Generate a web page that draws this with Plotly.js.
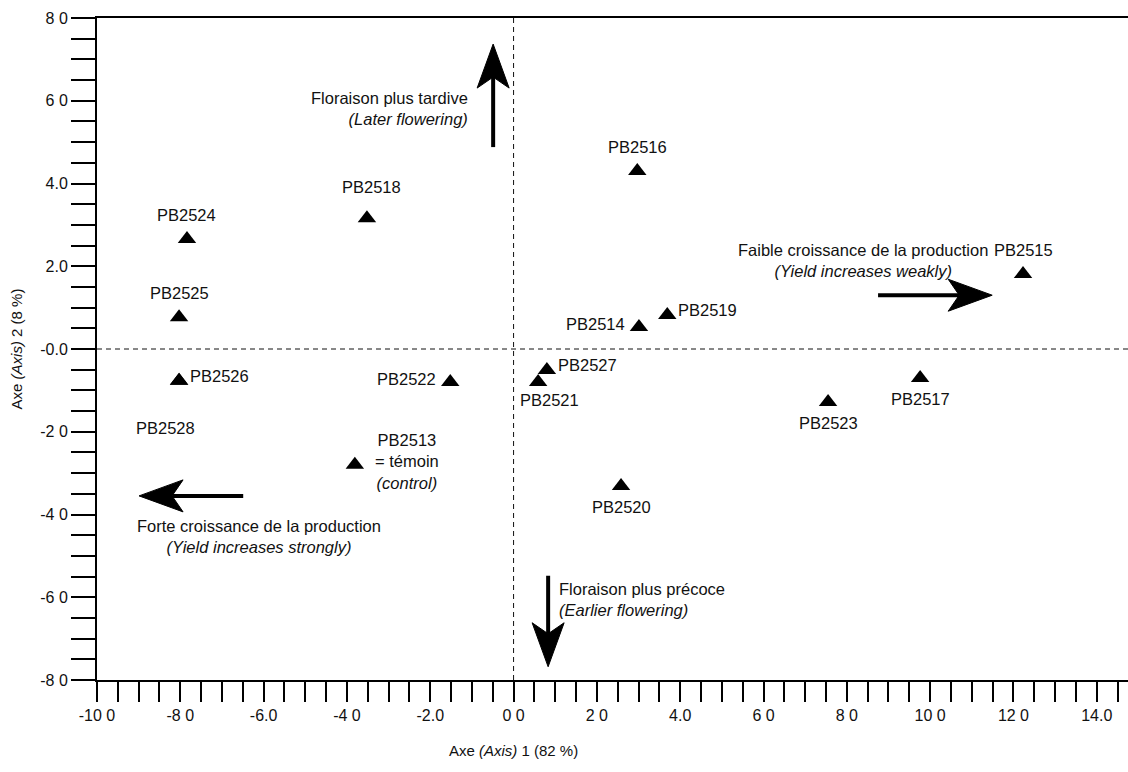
<!DOCTYPE html>
<html>
<head>
<meta charset="utf-8">
<script src="https://cdn.plot.ly/plotly-3.0.1.min.js"></script>
<style>html,body{margin:0;padding:0;background:#fff;}#chart{width:1128px;height:772px;}</style>
</head>
<body>
<div id="chart"></div>
<script>
// ---- data ----
const genotypes = ["PB2516","PB2518","PB2524","PB2525","PB2526","PB2528","PB2522","PB2513","PB2527","PB2521","PB2520","PB2514","PB2519","PB2523","PB2517","PB2515"];
const axis1 = [2.97,-3.52,-7.84,-8.03,-8.03,-8.03,-1.52,-3.81,0.80,0.59,2.58,3.01,3.69,7.55,9.76,12.23];
const axis2 = [4.30,3.16,2.66,0.77,-0.77,-0.77,-0.80,-2.80,-0.51,-0.80,-3.31,0.53,0.82,-1.28,-0.70,1.81];
const labelSide = ["above","high","above","above","right","farbelow","left","control","right","belowright","below","left","right","below","below","above"];

const xTickVals = [-10,-8,-6,-4,-2,0,2,4,6,8,10,12,14];
const xTickText = ["-10 0","-8 0","-6.0","-4 0","-2.0","0 0","2 0","4.0","6 0","8 0","10 0","12 0","14.0"];
const yTickVals = [8,6,4,2,0,-2,-4,-6,-8];
const yTickText = ["8 0","6 0","4.0","2.0","-0.0","-2 0","-4 0","-6 0","-8 0"];

const notes = [
  {text:"Floraison plus tardive<br><i>(Later flowering)</i>", x:-1.04, y:5.82, xanchor:"right", align:"right"},
  {text:"Floraison plus précoce<br><i>(Earlier flowering)</i>", x:1.04, y:-6.06, xanchor:"left", align:"left"},
  {text:"Faible croissance de la production<br><i>(Yield increases weakly)</i>", x:8.40, y:2.13, xanchor:"center", align:"center"},
  {text:"Forte croissance de la production<br><i>(Yield increases strongly)</i>", x:-6.11, y:-4.54, xanchor:"center", align:"center"}
];
// arrows: from (tail) -> to (tip), data coordinates
const arrows = [
  {x0:-0.49, y0:4.88, x1:-0.49, y1:7.37},
  {x0:0.83, y0:-5.48, x1:0.83, y1:-7.68},
  {x0:8.75, y0:1.30, x1:11.49, y1:1.30},
  {x0:-6.49, y0:-3.55, x1:-8.99, y1:-3.55}
];

// ---- styling ----
const FONT = '"Liberation Sans Narrow","Arial Narrow","Liberation Sans",Arial,sans-serif';
const txt = {family: FONT, size: 16.5, color: "#111"};

const offsets = {
  above:      {xanchor:"center", yanchor:"middle", xshift:0,  yshift:24},
  high:       {xanchor:"center", yanchor:"middle", xshift:5,  yshift:31},
  below:      {xanchor:"center", yanchor:"middle", xshift:0,  yshift:-21},
  belowright: {xanchor:"center", yanchor:"middle", xshift:11, yshift:-18},
  farbelow:   {xanchor:"center", yanchor:"middle", xshift:-14,yshift:-47},
  right:      {xanchor:"left",   yanchor:"middle", xshift:9,  yshift:5},
  left:       {xanchor:"right",  yanchor:"middle", xshift:-12,yshift:3},
  control:    {xanchor:"center", yanchor:"middle", xshift:52, yshift:3}
};

const annotations = [];
genotypes.forEach((g, i) => {
  const o = offsets[labelSide[i]];
  let text = g;
  if (labelSide[i] === "control") text = g + "<br>= témoin<br><i>(control)</i>";
  annotations.push(Object.assign({x: axis1[i], y: axis2[i], xref:"x", yref:"y", text: text,
    showarrow:false, font: txt, align:"center"}, o));
});
notes.forEach(n => {
  annotations.push({x:n.x, y:n.y, xref:"x", yref:"y", text:n.text, showarrow:false,
    xanchor:n.xanchor, yanchor:"middle", align:n.align, font:{family:FONT, size:16.5, color:"#111"}});
});
annotations.push({x:0, y:-0.106, xref:"x", yref:"paper", yanchor:"middle", xanchor:"center",
  text:"Axe <i>(Axis)</i> 1 (82 %)", showarrow:false, font:{family:FONT, size:15, color:"#111"}});

const shapes = [
  {type:"line", xref:"x", yref:"paper", x0:0, x1:0, y0:0, y1:1, line:{color:"#111", width:1, dash:"5px,4px"}},
  {type:"line", xref:"paper", yref:"y", x0:0, x1:1, y0:0, y1:0, line:{color:"#111", width:1, dash:"5px,4px"}}
];
// arrow shafts and heads (heads drawn in pixel units anchored at the tip)
const HL = 44, HW = 32, HN = 33;
arrows.forEach(a => {
  const dx = a.x1 - a.x0, dy = a.y1 - a.y0;
  const len = Math.hypot(dx, dy);
  const ux = dx/len, uy = dy/len;          // direction (y up)
  const nx = -uy, ny = ux;
  shapes.push({type:"line", xref:"x", yref:"y", x0:a.x0, y0:a.y0,
    x1:a.x1 - ux*(HN/41.5), y1:a.y1 - uy*(HN/41.5), line:{color:"#000", width:4}});
  const p = (px, py) => px.toFixed(1) + "," + py.toFixed(1);
  const c1 = p(-ux*HL + nx*HW/2, -uy*HL + ny*HW/2);
  const c2 = p(-ux*HL - nx*HW/2, -uy*HL - ny*HW/2);
  const nt = p(-ux*HN, -uy*HN);
  shapes.push({type:"path", xref:"x", yref:"y", xsizemode:"pixel", ysizemode:"pixel",
    xanchor:a.x1, yanchor:a.y1, path:"M0,0 L" + c1 + " L" + nt + " L" + c2 + " Z",
    fillcolor:"#000", line:{color:"#000", width:1}});
});

const trace = {
  x: axis1, y: axis2, type:"scatter", mode:"markers", text: genotypes, hoverinfo:"text",
  marker:{symbol:"triangle-up", size:16, color:"#000", line:{width:0}}
};

const layout = {
  width:1128, height:772,
  margin:{l:97, r:0, t:18, b:92},
  paper_bgcolor:"#fff", plot_bgcolor:"#fff",
  showlegend:false,
  font:{family:FONT, size:16, color:"#111"},
  xaxis:{
    range:[-10, 14.75], showgrid:false, zeroline:false,
    showline:true, linecolor:"#000", linewidth:2, mirror:true,
    tickmode:"array", tickvals:xTickVals, ticktext:xTickText,
    ticks:"outside", ticklen:20, tickwidth:2, tickcolor:"#000",
    minor:{tick0:-10, dtick:0.5, ticks:"outside", ticklen:20, tickwidth:2, tickcolor:"#000", showgrid:false},
    tickfont:{family:FONT, size:16, color:"#111"}
  },
  yaxis:{
    range:[-8, 8], showgrid:false, zeroline:false,
    showline:true, linecolor:"#000", linewidth:2,
    tickmode:"array", tickvals:yTickVals, ticktext:yTickText,
    ticks:"outside", ticklen:24, tickwidth:2, tickcolor:"#000",
    minor:{tick0:-8, dtick:0.5, ticks:"outside", ticklen:24, tickwidth:2, tickcolor:"#000", showgrid:false},
    tickfont:{family:FONT, size:16, color:"#111"},
    title:{text:"Axe <i>(Axis)</i> 2 (8 %)", standoff:14, font:{family:FONT, size:15, color:"#111"}}
  },
  annotations: annotations,
  shapes: shapes
};

Plotly.newPlot("chart", [trace], layout, {displayModeBar:false, staticPlot:true});
</script>
</body>
</html>
